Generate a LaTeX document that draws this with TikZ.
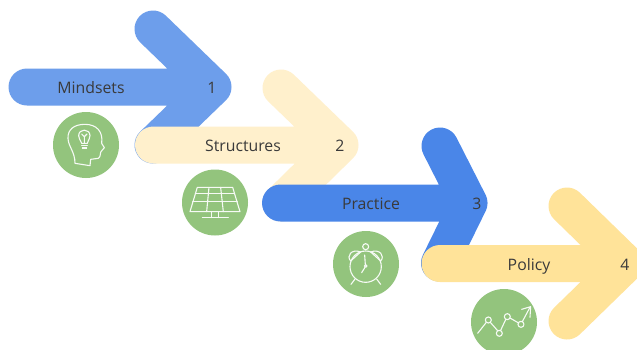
\documentclass[tikz,border=0pt]{standalone}
\usepackage{fontspec}
\setmainfont{Open Sans}
\definecolor{aone}{HTML}{6D9EEB}
\definecolor{atwo}{HTML}{FFF0CC}
\definecolor{athree}{HTML}{4A86E8}
\definecolor{afour}{HTML}{FFE399}
\definecolor{leaf}{HTML}{93C47D}
\definecolor{ink}{HTML}{3A3A3A}
\tikzset{
  arrowshape/.style={line width=37pt,line cap=round,line join=round},
  badge/.style={circle,fill=leaf,draw=none,minimum size=66pt,inner sep=0pt},
  label/.style={text=ink,font=\fontsize{15.8}{18}\selectfont,inner sep=0pt},
  icon/.style={draw=white!92!leaf,line width=1.1pt,line join=round,line cap=round},
}
\begin{document}
\begin{tikzpicture}[x=1pt,y=-1pt]
\useasboundingbox (0,0) rectangle (637,349);
\fill[white] (0,0) rectangle (637,349);
% arrows
\draw[arrowshape,aone] (27,87) -- (213,87) (153,29) -- (213,87) -- (153,145);
\draw[arrowshape,atwo] (153.5,145) -- (340,145) (281,88) -- (340,145) -- (281,203);
\draw[arrowshape,athree] (280.5,203) -- (469,203) (440,146) -- (469,203) -- (439.5,263);
\draw[arrowshape,afour] (440,263.5) -- (626,263.5) (567,206) -- (626,263.5) -- (567,321);
% texts
\node[label] (t1) at (91,87.5) {Mindsets};
\node[label] (n1) at (212,87.5) {1};
\node[label] (t2) at (243,145.5) {Structures};
\node[label] (n2) at (340,145.5) {2};
\node[label] (t3) at (371,204) {Practice};
\node[label] (n3) at (477,204) {3};
\node[label] (t4) at (529,266) {Policy};
\node[label] (n4) at (625,264.5) {4};
% badges
\node[badge] (c1) at (86,145) {};
\node[badge] (c2) at (215,202.5) {};
\node[badge] (c3) at (366,264) {};
\node[badge] (c4) at (504,322) {};
% head icon
\begin{scope}[shift={(40,100)},x=0.3333pt,y=-0.3333pt,icon]
\draw (105,190) -- (150,197) -- (152,178) -- (175,175) .. controls (183,170) and (180,158) .. (183,155)
  -- (193,143) -- (185,130) .. controls (190,95) and (170,73) .. (135,73)
  .. controls (100,73) and (83,90) .. (84,115) .. controls (85,140) and (105,155) .. (105,190) -- cycle;
\draw (125,130) .. controls (120,118) and (116,115) .. (116,107) .. controls (116,85) and (150,85) .. (150,107)
  .. controls (150,115) and (146,118) .. (142,130) -- cycle;
\draw (125,137) -- (142,137) (127,144) -- (140,144);
\draw (133,130) -- (133,110) (125,102) -- (133,110) -- (141,102);
\end{scope}
% solar panel icon
\begin{scope}[shift={(40,100)},x=0.3333pt,y=-0.3333pt,icon]
\draw (472,262) -- (578,262) -- (600,335) -- (450,335) -- cycle;
\draw (466,280) -- (584,280) (458,305) -- (592,305);
\draw (507,262) -- (500,335) (542,262) -- (550,335);
\draw (515,335) -- (515,353) (535,335) -- (535,353) (487,353) -- (565,353);
\end{scope}
% clock icon
\begin{scope}[shift={(320,230)},x=0.3333pt,y=-0.3333pt,icon]
\draw (137,110) circle[radius=47];
\draw (137,50) circle[radius=9];
\draw (137,108) circle[radius=4];
\draw (136,104) -- (134,75) (135,112) -- (125,128);
\draw (105,147) -- (93,163) (170,147) -- (182,163);
\draw (92,93) .. controls (78,78) and (95,55) .. (122,66);
\draw (92,93) -- (122,66);
\draw (182,93) .. controls (196,78) and (179,55) .. (152,66);
\draw (182,93) -- (152,66);
\end{scope}
% chart icon
\begin{scope}[shift={(320,230)},x=0.3333pt,y=-0.3333pt,icon]
\draw (473,310) -- (499,277) (511,277) -- (533,302) (542,301) -- (557,269) (570,264) -- (596,279) (607,275) -- (631,230);
\draw (505,270) circle[radius=9];
\draw (538,310) circle[radius=9];
\draw (562,260) circle[radius=9];
\draw (603,283) circle[radius=9];
\draw (605,238) -- (632,230) -- (630,262);
\end{scope}
\end{tikzpicture}
\end{document}
